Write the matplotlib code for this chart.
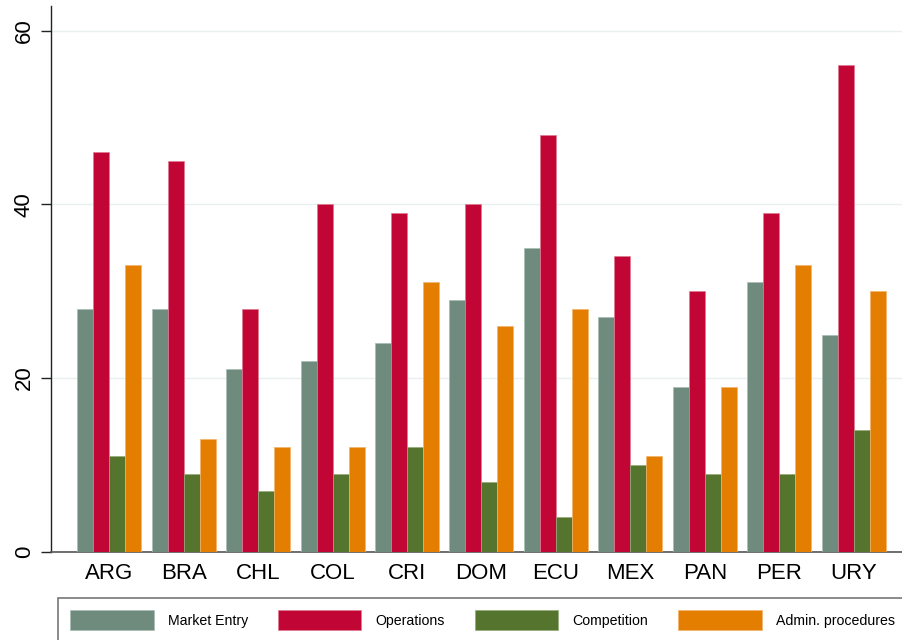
import matplotlib
matplotlib.use("Agg")
import matplotlib.pyplot as plt
import numpy as np

countries = ["ARG", "BRA", "CHL", "COL", "CRI", "DOM", "ECU", "MEX", "PAN", "PER", "URY"]
market_entry = [28, 28, 21, 22, 24, 29, 35, 27, 19, 31, 25]
operations = [46, 45, 28, 40, 39, 40, 48, 34, 30, 39, 56]
competition = [11, 9, 7, 9, 12, 8, 4, 10, 9, 9, 14]
admin_procedures = [33, 13, 12, 12, 31, 26, 28, 11, 19, 33, 30]
series_names = ["Market Entry", "Operations", "Competition", "Admin. procedures"]
y_ticks = [0, 20, 40, 60]

colors = ["#6E8B7E", "#C10534", "#55752F", "#E37E00"]
edges = ["#A9BDB4", "#E07A93", "#93AB78", "#F4B36A"]

plt.rcParams['font.family'] = ['Liberation Sans', 'DejaVu Sans']

W, H = 902, 640
fig = plt.figure(figsize=(W / 100, H / 100), dpi=100)
left_px, right_px, top_px, bottom_px = 51, 902, 6, 551.7
ax = fig.add_axes([left_px / W, 1 - bottom_px / H, (right_px - left_px) / W, (bottom_px - top_px) / H])

x = np.arange(len(countries))
bw = 0.215
data = [market_entry, operations, competition, admin_procedures]
handles = []
for i, (vals, name) in enumerate(zip(data, series_names)):
    b = ax.bar(x + (i - 1.5) * bw, vals, width=bw, color=colors[i], edgecolor=edges[i],
               linewidth=0.5, label=name, zorder=3)
    handles.append(b)

ax.set_xlim(-0.783, 10.649)
ax.set_ylim(0, 62.83)
ax.set_yticks(y_ticks)
ax.set_yticklabels([str(v) for v in y_ticks], rotation=90, va='center')
ax.set_xticks(x)
ax.set_xticklabels(countries)

ax.yaxis.grid(True, color="#E8F0F2", linewidth=1.0, zorder=0)
ax.set_axisbelow(True)

for s in ["top", "right"]:
    ax.spines[s].set_visible(False)
ax.spines["left"].set_color("#222222")
ax.spines["left"].set_linewidth(1.0)
ax.spines["bottom"].set_color("#555555")
ax.spines["bottom"].set_linewidth(1.2)

ax.tick_params(axis='y', length=7.2, width=1.0, color="#222222", pad=4.5, labelsize=16)
ax.tick_params(axis='x', length=0, pad=8, labelsize=16)

fs = 10.2
fig.legend(handles=handles, labels=series_names, loc='upper left',
           bbox_to_anchor=(58 / W, 1 - 598 / H), bbox_transform=fig.transFigure,
           ncol=4, fontsize=fs, frameon=True, fancybox=False, borderaxespad=0,
           handlelength=5.9, handleheight=1.8, handletextpad=1.0, columnspacing=2.1,
           borderpad=0.85, edgecolor="#555555")
leg = fig.legends[0]
leg.get_frame().set_linewidth(1.2)

fig.savefig("out.png", dpi=100)
